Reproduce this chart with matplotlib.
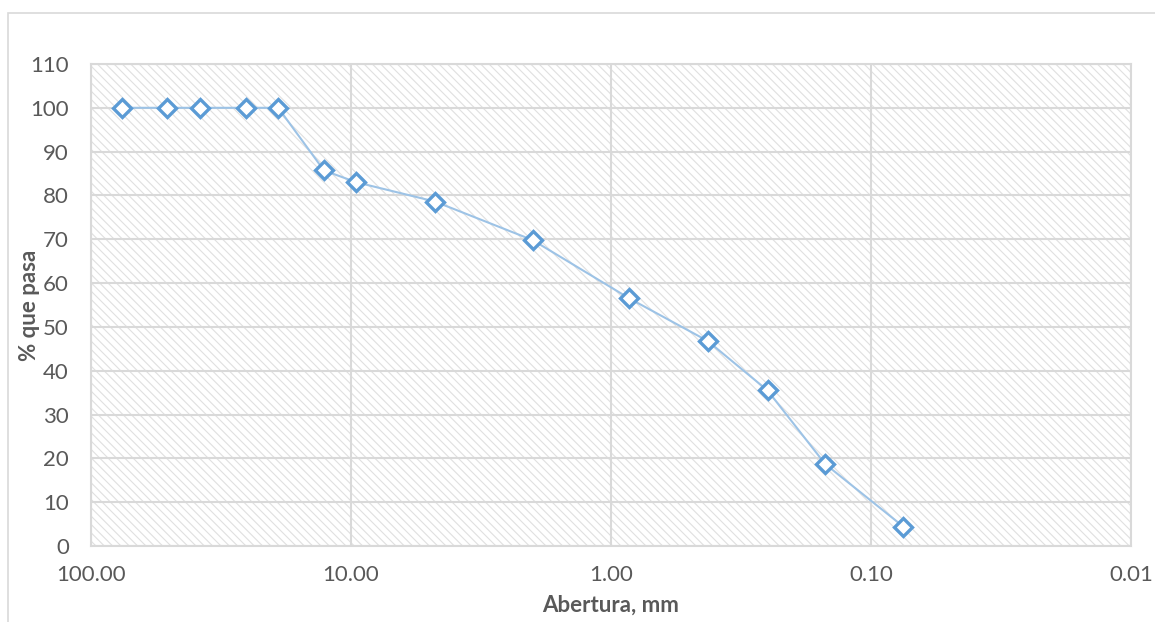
import numpy as np
import matplotlib
matplotlib.use("Agg")
from matplotlib import pyplot as plt
from matplotlib.patches import Rectangle
from matplotlib.ticker import FixedLocator, FixedFormatter, NullLocator

# sieve opening (mm) and percent passing
abertura = [76.2, 50.8, 38.1, 25.4, 19.05, 12.7, 9.525, 4.75, 2.0, 0.85, 0.425, 0.25, 0.15, 0.075]
pasa = [100, 100, 100, 100, 100, 85.7, 83.0, 78.6, 69.8, 56.5, 46.8, 35.5, 18.7, 4.4]

x_ticks = [100, 10, 1, 0.1, 0.01]
x_labels = ['100.00', '10.00', '1.00', '0.10', '0.01']
y_ticks = list(range(0, 111, 10))

plt.rcParams['font.family'] = ['Lato', 'DejaVu Sans']
plt.rcParams['hatch.linewidth'] = 0.8

fig = plt.figure(figsize=(11.55, 6.22), dpi=100)
ax = fig.add_axes([91/1155, 1-546/622, 1040/1155, 482/622])

# outer chart border (only left/top visible in the crop)
fig.patches.append(Rectangle((8/1155, -0.1), 1.2, 1-13/622+0.1, transform=fig.transFigure,
                             facecolor='none', edgecolor='#d9d9d9', linewidth=1.2))

ax.set_xscale('log')
ax.set_xlim(100, 0.01)
ax.set_ylim(0, 110)

# hatched plot area
ax.add_patch(Rectangle((0, 0), 1, 1, transform=ax.transAxes, facecolor='white',
                       edgecolor='#e0e0e0', linewidth=0, hatch='\\\\\\\\', zorder=0))

ax.xaxis.set_major_locator(FixedLocator(x_ticks))
ax.xaxis.set_major_formatter(FixedFormatter(x_labels))
ax.xaxis.set_minor_locator(NullLocator())
ax.set_yticks(y_ticks)
ax.grid(True, color='#d9d9d9', linewidth=1.5, zorder=1)
ax.set_axisbelow(True)
for s in ax.spines.values():
    s.set_color('#d9d9d9')
    s.set_linewidth(1.5)
ax.tick_params(length=0, labelsize=16, labelcolor='#595959')
ax.tick_params(axis='y', pad=16)
ax.tick_params(axis='x', pad=14)

ax.plot(abertura, pasa, color='#9dc3e6', linewidth=1.5, marker='D', markersize=9.5,
        markerfacecolor='white', markeredgecolor='#5b9bd5', markeredgewidth=2.4, zorder=3)

ax.set_xlabel('Abertura, mm', fontsize=16, fontweight='bold', color='#595959')
ax.set_ylabel('% que pasa', fontsize=16, fontweight='bold', color='#595959')
ax.xaxis.set_label_coords(0.5, (546-605)/482)
ax.xaxis.label.set_va('center')
ax.yaxis.set_label_coords((30-91)/1040, 0.5)
ax.yaxis.label.set_va('center')

fig.savefig('out.png', dpi=100)
